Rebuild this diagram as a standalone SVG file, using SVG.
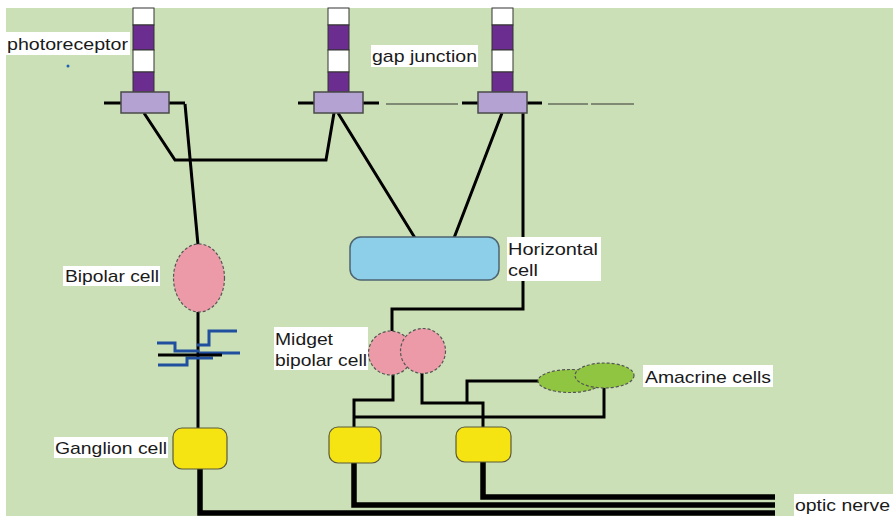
<svg xmlns="http://www.w3.org/2000/svg" width="893" height="516" viewBox="0 0 893 516">
  <style>
    .lbl { font-family: "Liberation Sans", Arial, sans-serif; font-size: 17px; fill: #1a1a1a; }
    .bg { fill: #ffffff; }
    .wire { fill: none; stroke: #000; stroke-width: 3; stroke-linejoin: miter; }
    .nerve { fill: none; stroke: #000; stroke-width: 5.5; }
    .thin { fill: none; stroke: #333; stroke-width: 1.2; }
    .syn { fill: none; stroke: #1f4f9e; stroke-width: 3; }
    .pedicle { fill: #b3a2d2; stroke: #4a4a4a; stroke-width: 1.5; }
    .stripe-w { fill: #ffffff; stroke: #333; stroke-width: 1; }
    .stripe-p { fill: #6b2d8f; stroke: #333; stroke-width: 1; }
    .pink { fill: #ed9aa8; stroke: #555; stroke-width: 1.2; stroke-dasharray: 3 2; }
    .amac { fill: #8fc540; stroke: #555; stroke-width: 1.2; stroke-dasharray: 3 2; }
    .gang { fill: #f5e312; stroke: #5a5a3a; stroke-width: 1.2; }
    .horiz { fill: #8dcfe9; stroke: #4e6470; stroke-width: 1.5; }
  </style>
  <defs>
    <g id="rod">
      <rect class="stripe-w" x="0" y="8" width="21" height="17"/>
      <rect class="stripe-p" x="0" y="25" width="21" height="25"/>
      <rect class="stripe-w" x="0" y="50" width="21" height="22"/>
      <rect class="stripe-p" x="0" y="72" width="21" height="20"/>
    </g>
  </defs>

  <!-- page -->
  <rect x="0" y="0" width="893" height="516" fill="#ffffff"/>
  <rect x="6" y="8" width="887" height="508" fill="#cce0b7"/>

  <!-- connectors -->
  <g id="connectors">
    <!-- pedicle stubs -->
    <path class="wire" d="M104 103H121 M169 103H185 M298 103H314 M363 103H379 M462 103H478 M527 103H542"/>
    <!-- gap junction traces -->
    <path class="thin" d="M386 104H458 M548 104H588 M591 104H634"/>
    <!-- rod 1 to bipolar cell -->
    <path class="wire" d="M185 104L198 245"/>
    <!-- rod 1 to rod 2 -->
    <path class="wire" d="M144 113L175 160H326L334 113"/>
    <!-- cones to horizontal cell -->
    <path class="wire" d="M338 113L415 238 M502 113L454 238"/>
    <!-- rod 3 to midget bipolar -->
    <path class="wire" d="M523 113V309H392V331"/>
    <!-- bipolar to ganglion -->
    <path class="wire" d="M198 312V429"/>
    <!-- midget bipolar to ganglion cells -->
    <path class="wire" d="M393 375V400H354V428"/>
    <path class="wire" d="M422 372V403H483V428"/>
    <!-- amacrine links -->
    <path class="wire" d="M354 417H604V387"/>
    <path class="wire" d="M467 403V381H540"/>
    <!-- synapse -->
    <path class="syn" d="M237 331H209V345H197"/>
    <path class="syn" d="M157 343H175V351H199"/>
    <path class="syn" d="M199 353H240"/>
    <path class="syn" d="M158 365H187V358H213"/>
    <path class="wire" d="M158 355H222"/>
    <!-- optic nerve -->
    <path class="nerve" d="M200 469V513H775"/>
    <path class="nerve" d="M354 463V505H775"/>
    <path class="nerve" d="M483 462V497H775"/>
  </g>

  <!-- photoreceptors -->
  <g id="photoreceptor-1">
    <use href="#rod" x="133"/>
    <rect class="pedicle" x="121" y="92" width="48" height="21"/>
  </g>
  <g id="photoreceptor-2">
    <use href="#rod" x="328"/>
    <rect class="pedicle" x="314" y="92" width="49" height="21"/>
  </g>
  <g id="photoreceptor-3">
    <use href="#rod" x="492"/>
    <rect class="pedicle" x="478" y="92" width="49" height="21"/>
  </g>

  <g id="horizontal-cell">
    <rect class="horiz" x="350" y="237" width="149" height="43" rx="11"/>
  </g>

  <g id="bipolar-cell">
    <ellipse class="pink" cx="199" cy="278" rx="25.5" ry="34"/>
  </g>

  <g id="midget-bipolar-cells">
    <circle class="pink" cx="390.5" cy="353" r="22"/>
    <circle class="pink" cx="423" cy="351" r="22.5"/>
  </g>

  <g id="amacrine-cells">
    <ellipse class="amac" cx="570" cy="381" rx="32" ry="11.5"/>
    <ellipse class="amac" cx="604.5" cy="375.5" rx="29.5" ry="12.5"/>
  </g>

  <g id="ganglion-1">
    <rect class="gang" x="173" y="428" width="54" height="41" rx="9"/>
  </g>
  <g id="ganglion-2">
    <rect class="gang" x="329" y="427" width="52" height="36" rx="9"/>
  </g>
  <g id="ganglion-3">
    <rect class="gang" x="456" y="427" width="55" height="35" rx="9"/>
  </g>

  <!-- labels -->
  <g id="labels">
    <rect class="bg" x="5" y="32" width="125" height="23"/>
    <text class="lbl" x="7" y="50" textLength="121" lengthAdjust="spacingAndGlyphs">photoreceptor</text>
    <circle cx="68" cy="66" r="1.5" fill="#2060b0"/>

    <rect class="bg" x="371" y="45" width="107" height="22"/>
    <text class="lbl" x="372" y="62" textLength="105" lengthAdjust="spacingAndGlyphs">gap junction</text>

    <rect class="bg" x="63" y="266" width="97" height="20"/>
    <text class="lbl" x="65" y="282" textLength="94" lengthAdjust="spacingAndGlyphs">Bipolar cell</text>

    <rect class="bg" x="507" y="237" width="94" height="44"/>
    <text class="lbl" x="508" y="255" textLength="90" lengthAdjust="spacingAndGlyphs">Horizontal</text>
    <text class="lbl" x="508" y="276" textLength="30" lengthAdjust="spacingAndGlyphs">cell</text>

    <rect class="bg" x="274" y="327" width="94" height="43"/>
    <text class="lbl" x="275" y="345" textLength="58" lengthAdjust="spacingAndGlyphs">Midget</text>
    <text class="lbl" x="275" y="366" textLength="92" lengthAdjust="spacingAndGlyphs">bipolar cell</text>

    <rect class="bg" x="643" y="365" width="130" height="22"/>
    <text class="lbl" x="645" y="383" textLength="126" lengthAdjust="spacingAndGlyphs">Amacrine cells</text>

    <rect class="bg" x="54" y="437" width="114" height="21"/>
    <text class="lbl" x="55" y="454" textLength="112" lengthAdjust="spacingAndGlyphs">Ganglion cell</text>

    <rect class="bg" x="794" y="494" width="99" height="22"/>
    <text class="lbl" x="795" y="511" textLength="95" lengthAdjust="spacingAndGlyphs">optic nerve</text>
  </g>
</svg>
